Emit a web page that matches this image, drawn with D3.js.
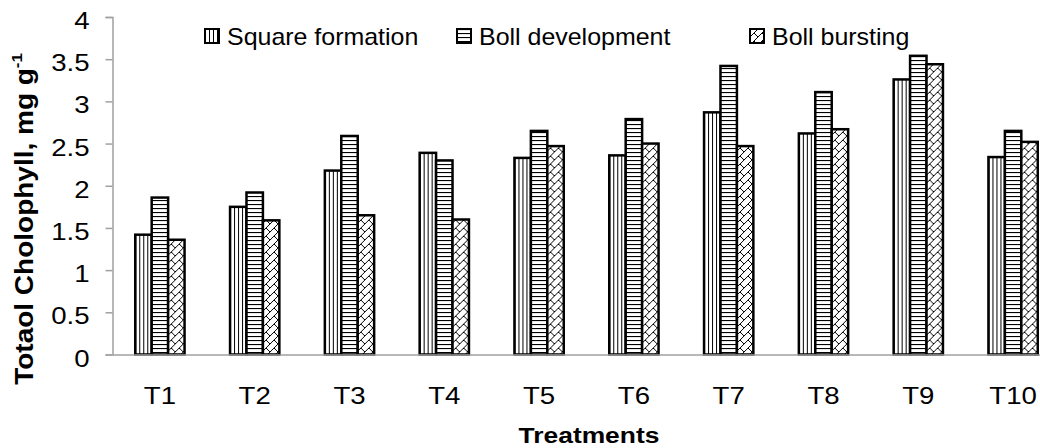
<!DOCTYPE html>
<html>
<head>
<meta charset="utf-8">
<script src="https://cdn.jsdelivr.net/npm/d3@7"></script>
<style>
  body { margin: 0; background: #fff; }
  svg { display: block; font-family: "Liberation Sans", Arial, sans-serif; }
</style>
</head>
<body>
<svg width="1040" height="448"></svg>
<script>
var treatments = ["T1", "T2", "T3", "T4", "T5", "T6", "T7", "T8", "T9", "T10"];
var stages = ["Square formation", "Boll development", "Boll bursting"];
var squareFormation = [1.42, 1.75, 2.18, 2.39, 2.33, 2.36, 2.87, 2.62, 3.26, 2.34];
var bollDevelopment = [1.86, 1.92, 2.59, 2.30, 2.65, 2.79, 3.42, 3.11, 3.54, 2.65];
var bollBursting = [1.36, 1.59, 1.65, 1.60, 2.47, 2.50, 2.47, 2.67, 3.44, 2.52];
var yTicks = [0, 0.5, 1, 1.5, 2, 2.5, 3, 3.5, 4];

var series = [squareFormation, bollDevelopment, bollBursting];
var patternIds = ["pat-vert", "pat-horiz", "pat-brick"];
var stretch = 1.15; // the picture's text is a bit wide

var svg = d3.select("svg");
var defs = svg.append("defs");

// widen a text element horizontally around its own anchor x
function widen(sel, k) {
  sel.each(function() {
    var t = d3.select(this);
    var ax = +t.attr("x") || 0;
    var old = t.attr("transform") || "";
    t.attr("transform", old + " translate(" + ax + ",0) scale(" + k + ",1) translate(" + (-ax) + ",0)");
  });
}

// fill patterns, like the excel ones
var pv = defs.append("pattern").attr("id", "pat-vert")
  .attr("patternUnits", "userSpaceOnUse").attr("width", 4).attr("height", 4);
pv.append("rect").attr("width", 4).attr("height", 4).attr("fill", "#fff");
pv.append("line").attr("x1", 0.5).attr("y1", 0).attr("x2", 0.5).attr("y2", 4)
  .attr("stroke", "#000").attr("stroke-width", 1);

var ph = defs.append("pattern").attr("id", "pat-horiz")
  .attr("patternUnits", "userSpaceOnUse").attr("width", 4).attr("height", 4);
ph.append("rect").attr("width", 4).attr("height", 4).attr("fill", "#fff");
ph.append("line").attr("x1", 0).attr("y1", 0.5).attr("x2", 4).attr("y2", 0.5)
  .attr("stroke", "#000").attr("stroke-width", 1.2);

var pb = defs.append("pattern").attr("id", "pat-brick")
  .attr("patternUnits", "userSpaceOnUse").attr("width", 8).attr("height", 8);
pb.append("rect").attr("width", 8).attr("height", 8).attr("fill", "#fff");
pb.append("path").attr("d", "M8,0L0,8M4,4L8,8M-1,1L1,-1")
  .attr("stroke", "#000").attr("stroke-width", 1).attr("fill", "none");

var x0 = 112.5, step = 94.8;
var x = d3.scaleBand().domain(treatments)
  .range([x0, x0 + step * treatments.length])
  .paddingInner(0.48).paddingOuter(0.24);
var xs = d3.scaleBand().domain(d3.range(stages.length))
  .range([0, x.bandwidth()]);
var y = d3.scaleLinear().domain([0, 4]).range([354.5, 17]);

// y axis
var yAxis = svg.append("g").attr("transform", "translate(" + x0 + ",0)")
  .call(d3.axisLeft(y).tickValues(yTicks).tickSize(7).tickPadding(16)
    .tickFormat(d3.format("")));
yAxis.select(".domain").attr("stroke", "#a0a0a0").attr("stroke-width", 1.5);
yAxis.selectAll(".tick line").attr("stroke", "#a0a0a0").attr("stroke-width", 1.5);
yAxis.selectAll(".tick text").attr("font-size", 24).attr("fill", "#000")
  .attr("font-family", "Liberation Sans, Arial, sans-serif").attr("dy", "0.48em")
  .call(widen, stretch);

// bars
var groups = svg.append("g").selectAll("g")
  .data(treatments).enter().append("g")
  .attr("transform", function(d) { return "translate(" + x(d) + ",0)"; });

groups.selectAll("rect")
  .data(function(d, i) { return series.map(function(s, k) { return { k: k, v: s[i] }; }); })
  .enter().append("rect")
  .attr("x", function(d) { return xs(d.k); })
  .attr("width", xs.bandwidth())
  .attr("y", function(d) { return y(d.v); })
  .attr("height", function(d) { return y(0) - y(d.v); })
  .attr("fill", function(d) { return "url(#" + patternIds[d.k] + ")"; })
  .attr("stroke", "#000").attr("stroke-width", 2.5);

// x axis (drawn over bar bottoms)
var xAxis = svg.append("g").attr("transform", "translate(0," + y(0) + ")")
  .call(d3.axisBottom(x).tickSize(0).tickPadding(32));
xAxis.select(".domain").attr("stroke", "#a0a0a0").attr("stroke-width", 1.5);
xAxis.selectAll(".tick text").attr("font-size", 24).attr("fill", "#000")
  .attr("font-family", "Liberation Sans, Arial, sans-serif")
  .call(widen, stretch);

// axis titles
svg.append("text").attr("x", 589).attr("y", 443)
  .attr("text-anchor", "middle").attr("font-weight", "bold").attr("font-size", 22)
  .text("Treatments")
  .call(widen, 1.2);

var yt = svg.append("text")
  .attr("transform", "translate(33,219) rotate(-90) scale(1.12,1)")
  .attr("text-anchor", "middle").attr("font-weight", "bold").attr("font-size", 25);
yt.append("tspan").text("Totaol Cholophyll, mg g");
yt.append("tspan").attr("font-size", 15).attr("dy", -11).text("-1");

// legend
var legendX = [205, 457, 750];
var legend = svg.append("g").selectAll("g")
  .data(stages).enter().append("g")
  .attr("transform", function(d, i) { return "translate(" + legendX[i] + ",29)"; });
legend.append("rect").attr("width", 14).attr("height", 14)
  .attr("fill", function(d, i) { return "url(#" + patternIds[i] + ")"; })
  .attr("stroke", "#000").attr("stroke-width", 2);
legend.append("text").attr("x", 22).attr("y", 16)
  .attr("font-size", 24).text(function(d) { return d; })
  .call(widen, 1.04);
</script>
</body>
</html>
